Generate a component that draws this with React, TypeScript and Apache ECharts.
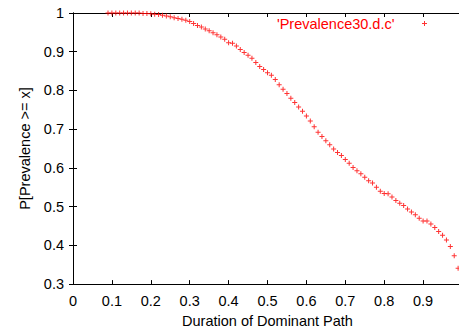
import React, { useEffect, useRef } from "react";
import * as echarts from "echarts";

// Duration of the dominant path (x) and the complementary CDF P[Prevalence >= x]
const durations = [
  0.09, 0.1, 0.11, 0.12, 0.13, 0.14, 0.15, 0.16, 0.17, 0.18, 0.19,
  0.2, 0.21, 0.22, 0.23, 0.24, 0.25, 0.26, 0.27, 0.28, 0.29,
  0.3, 0.31, 0.32, 0.33, 0.34, 0.35, 0.36, 0.37, 0.38, 0.39,
  0.4, 0.41, 0.42, 0.43, 0.44, 0.45, 0.46, 0.47, 0.48, 0.49,
  0.5, 0.51, 0.52, 0.53, 0.54, 0.55, 0.56, 0.57, 0.58, 0.59,
  0.6, 0.61, 0.62, 0.63, 0.64, 0.65, 0.66, 0.67, 0.68, 0.69,
  0.7, 0.71, 0.72, 0.73, 0.74, 0.75, 0.76, 0.77, 0.78, 0.79,
  0.8, 0.81, 0.82, 0.83, 0.84, 0.85, 0.86, 0.87, 0.88, 0.89,
  0.9, 0.91, 0.92, 0.93, 0.94, 0.95, 0.96, 0.97, 0.98, 0.99,
];

const prevalence = [
  1, 1, 1, 1, 1, 1, 1, 1, 1, 0.999, 0.999,
  0.998, 0.997, 0.996, 0.994, 0.992, 0.99, 0.988, 0.986, 0.984, 0.981,
  0.978, 0.973, 0.968, 0.964, 0.959, 0.954, 0.949, 0.944, 0.938, 0.932,
  0.923, 0.922, 0.915, 0.906, 0.898, 0.891, 0.883, 0.872, 0.862, 0.854,
  0.846, 0.839, 0.828, 0.815, 0.803, 0.792, 0.78, 0.769, 0.757, 0.746,
  0.734, 0.721, 0.706, 0.692, 0.681, 0.67, 0.66, 0.649, 0.64, 0.632,
  0.622, 0.612, 0.601, 0.593, 0.585, 0.576, 0.567, 0.561, 0.55, 0.54,
  0.534, 0.533, 0.525, 0.516, 0.509, 0.503, 0.494, 0.486, 0.479, 0.47,
  0.463, 0.463, 0.455, 0.446, 0.436, 0.426, 0.414, 0.397, 0.373, 0.341,
];

const seriesName = "'Prevalence30.d.c'";
const xTitle = "Duration of Dominant Path";
const yTitle = "P[Prevalence >= x]";

const FONT = "'Liberation Sans', Arial, Helvetica, sans-serif";
const PLUS = "path://M0,2H5V3H0Z M2,0H3V5H2Z";

const CHART_W = 470;
const CHART_H = 333;

const fmt = (v: number) => String(+v.toFixed(1));

export default function App() {
  const ref = useRef<HTMLDivElement>(null);

  useEffect(() => {
    if (!ref.current) return;
    const chart = echarts.init(ref.current, undefined, { renderer: "svg" });

    const axisLine = { show: true, lineStyle: { color: "#000", width: 1 } };
    const tick = { show: true, inside: true, length: 4, lineStyle: { color: "#000", width: 1 } };
    const label = { color: "#000", fontFamily: FONT, fontSize: 14.5 };

    chart.setOption({
      animation: false,
      backgroundColor: "#fff",
      grid: { left: 73, top: 13, right: CHART_W - 462, bottom: CHART_H - 287, containLabel: false },
      legend: {
        data: [seriesName],
        right: CHART_W - 427,
        top: 16,
        padding: 0,
        align: "right",
        itemWidth: 50,
        itemHeight: 5,
        icon: PLUS,
        textStyle: { color: "#ff0000", fontFamily: FONT, fontSize: 14.5 },
      },
      xAxis: [
        {
          type: "value",
          min: 0,
          max: 1,
          interval: 0.1,
          position: "bottom",
          name: xTitle,
          nameLocation: "middle",
          nameGap: 28,
          nameTextStyle: { ...label },
          axisLine,
          axisTick: tick,
          splitLine: { show: false },
          axisLabel: { ...label, margin: 9, showMaxLabel: false, formatter: fmt },
        },
        {
          type: "value",
          min: 0,
          max: 1,
          interval: 0.1,
          position: "top",
          axisLine,
          axisTick: tick,
          splitLine: { show: false },
          axisLabel: { show: false },
        },
      ],
      yAxis: [
        {
          type: "value",
          min: 0.3,
          max: 1,
          interval: 0.1,
          position: "left",
          name: yTitle,
          nameLocation: "middle",
          nameGap: 38,
          nameTextStyle: { ...label },
          axisLine,
          axisTick: tick,
          splitLine: { show: false },
          axisLabel: { ...label, margin: 9, formatter: fmt },
        },
        {
          type: "value",
          min: 0.3,
          max: 1,
          interval: 0.1,
          position: "right",
          axisLine,
          axisTick: tick,
          splitLine: { show: false },
          axisLabel: { show: false },
        },
      ],
      series: [
        {
          name: seriesName,
          type: "scatter",
          xAxisIndex: 0,
          yAxisIndex: 0,
          symbol: PLUS,
          symbolSize: 5,
          itemStyle: { color: "#ff0000" },
          data: durations.map((d, i) => [d, prevalence[i]]),
        },
      ],
    });

    return () => chart.dispose();
  }, []);

  return (
    <div
      style={{
        position: "fixed",
        left: 0,
        top: 0,
        width: 459,
        height: 333,
        overflow: "hidden",
        background: "#fff",
      }}
    >
      <div ref={ref} style={{ width: CHART_W, height: CHART_H }} />
    </div>
  );
}
